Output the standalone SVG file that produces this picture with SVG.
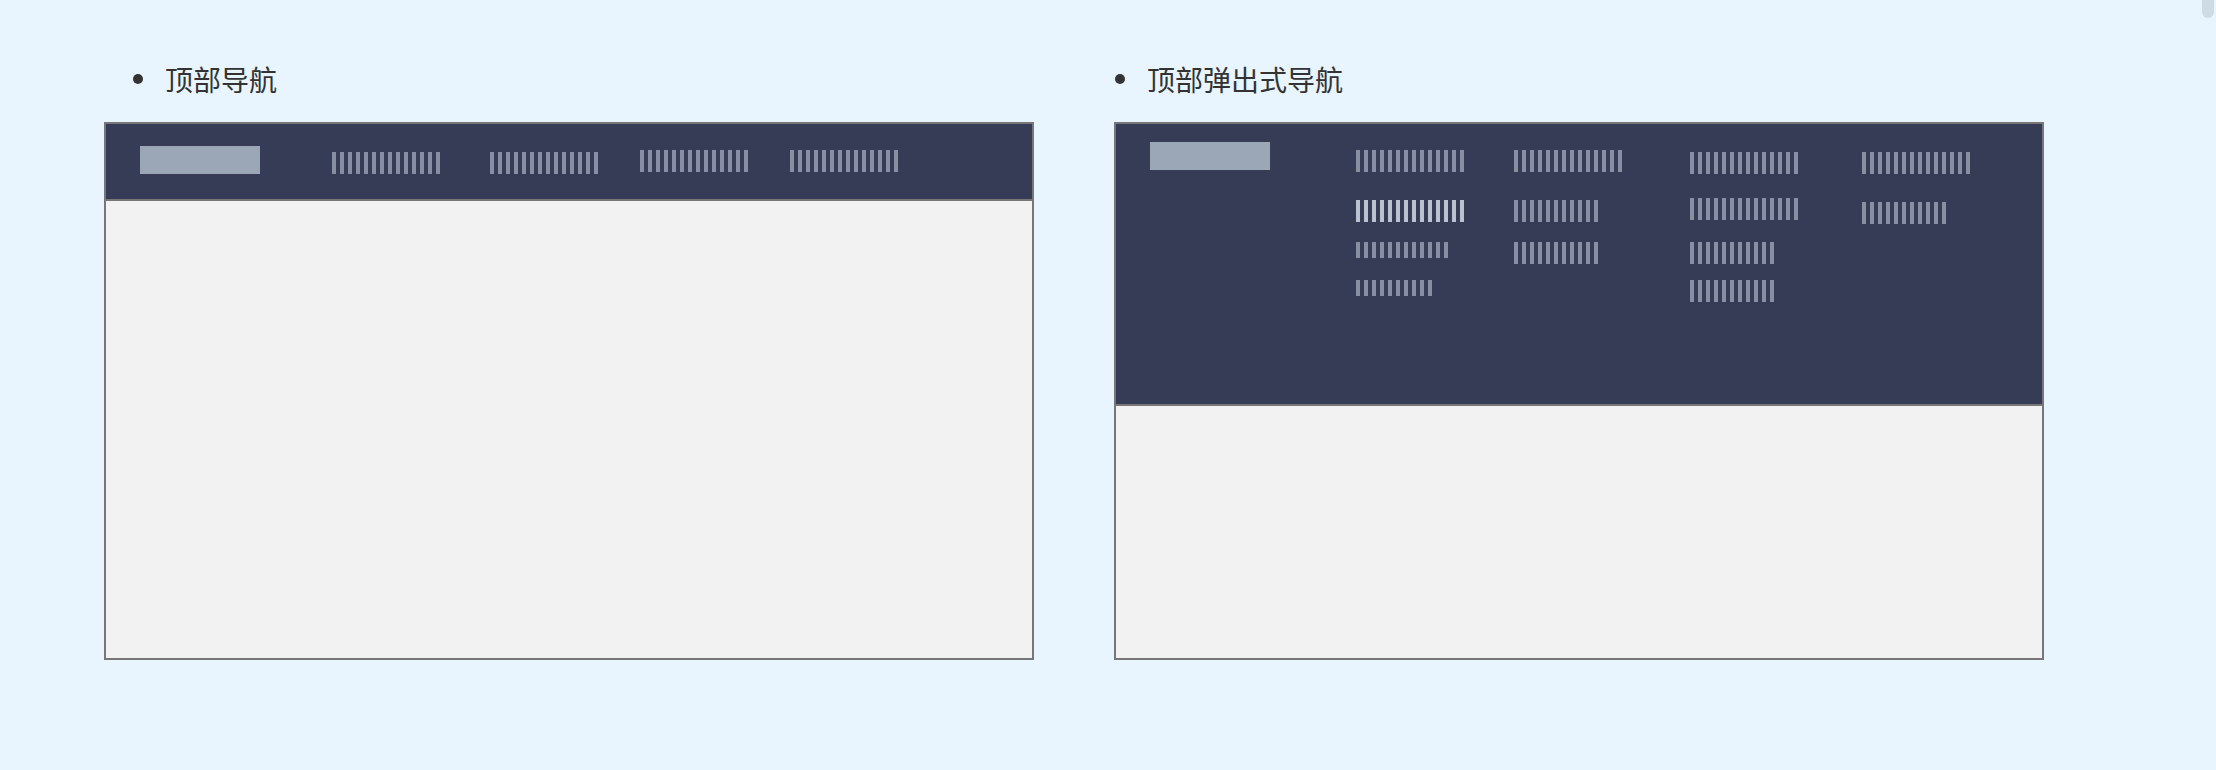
<svg xmlns="http://www.w3.org/2000/svg" width="2216" height="770" viewBox="0 0 2216 770">
<defs>
<pattern id="bars" patternUnits="userSpaceOnUse" x="0" y="0" width="8" height="40"><rect x="0" y="0" width="4" height="40" fill="#878fa3"/></pattern>
<pattern id="barsHi" patternUnits="userSpaceOnUse" x="0" y="0" width="8" height="40"><rect x="0" y="0" width="4" height="40" fill="#b9c3d0"/></pattern>
<style>
.title{font-family:"Noto Sans CJK SC","Liberation Sans",sans-serif;font-size:28px;fill:#333333}
.frame{fill:#f2f2f2;stroke:#777777;stroke-width:2}
.head{fill:#363b56;stroke:#777777;stroke-width:2}
.logo{fill:#9ba7b6}
.b{fill:url(#bars)}
.bh{fill:url(#barsHi)}
</style>
</defs>
<rect x="0" y="0" width="2216" height="770" fill="#e8f5fe"/>
<rect x="2202" y="-6" width="12" height="24" rx="6" fill="#cfdbe4"/>

<g id="node-top-nav">
<circle cx="138" cy="79" r="5" fill="#333333"/>
<text class="title" x="165" y="91">顶部导航</text>
<rect class="frame" x="105" y="123" width="928" height="536"/>
<rect class="head" x="105" y="123" width="928" height="77"/>
<rect class="logo" x="140" y="146" width="120" height="28"/>
<rect class="b" x="0" y="0" width="108" height="22" transform="translate(332,152)"/>
<rect class="b" x="0" y="0" width="108" height="22" transform="translate(490,152)"/>
<rect class="b" x="0" y="0" width="108" height="22" transform="translate(640,150)"/>
<rect class="b" x="0" y="0" width="108" height="22" transform="translate(790,150)"/>
</g>

<g id="node-top-popup-nav">
<circle cx="1120" cy="79" r="5" fill="#333333"/>
<text class="title" x="1147" y="91">顶部弹出式导航</text>
<rect class="frame" x="1115" y="123" width="928" height="536"/>
<rect class="head" x="1115" y="123" width="928" height="282"/>
<rect class="logo" x="1150" y="142" width="120" height="28"/>
<!-- column 1 -->
<rect class="b" x="0" y="0" width="108" height="22" transform="translate(1356,150)"/>
<rect class="bh" x="0" y="0" width="108" height="22" transform="translate(1356,200)"/>
<rect class="b" x="0" y="0" width="92" height="16" transform="translate(1356,242)"/>
<rect class="b" x="0" y="0" width="76" height="16" transform="translate(1356,280)"/>
<!-- column 2 -->
<rect class="b" x="0" y="0" width="108" height="22" transform="translate(1514,150)"/>
<rect class="b" x="0" y="0" width="84" height="22" transform="translate(1514,200)"/>
<rect class="b" x="0" y="0" width="84" height="22" transform="translate(1514,242)"/>
<!-- column 3 -->
<rect class="b" x="0" y="0" width="108" height="22" transform="translate(1690,152)"/>
<rect class="b" x="0" y="0" width="108" height="22" transform="translate(1690,198)"/>
<rect class="b" x="0" y="0" width="84" height="22" transform="translate(1690,242)"/>
<rect class="b" x="0" y="0" width="84" height="22" transform="translate(1690,280)"/>
<!-- column 4 -->
<rect class="b" x="0" y="0" width="108" height="22" transform="translate(1862,152)"/>
<rect class="b" x="0" y="0" width="84" height="22" transform="translate(1862,202)"/>
</g>

<g id="connectors"></g>
</svg>
